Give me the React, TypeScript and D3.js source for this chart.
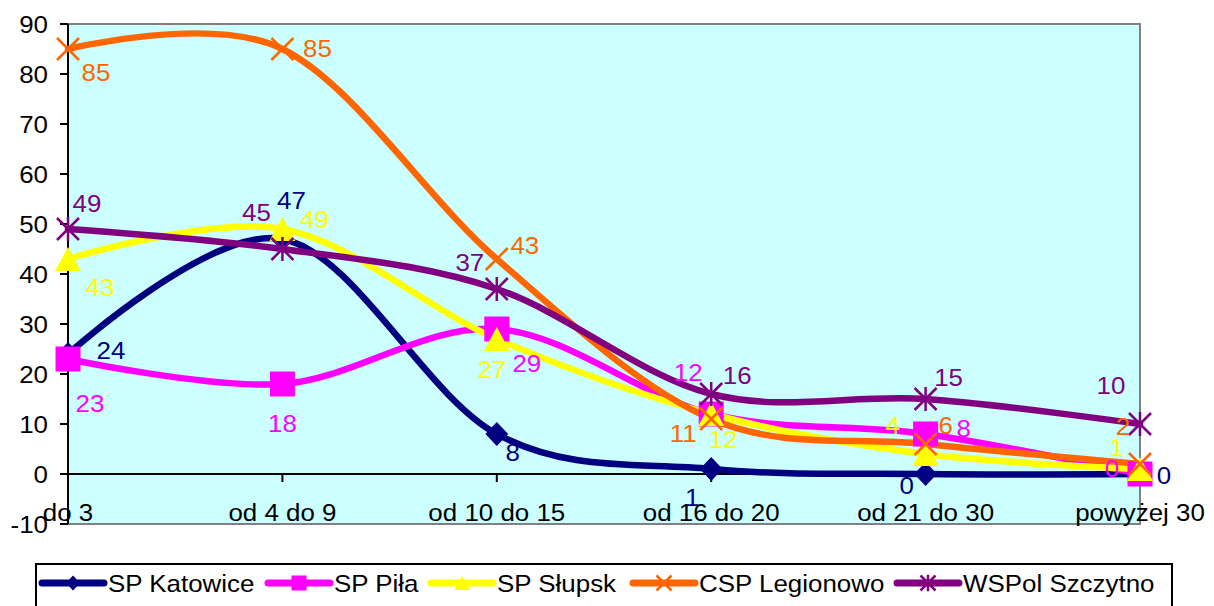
import React from "react";
import * as d3 from "d3";

// categories on the x axis
const categories = ["do 3", "od 4 do 9", "od 10 do 15", "od 16 do 20", "od 21 do 30", "powyżej 30"];

// series values
const katowice = [24, 47, 8, 1, 0, 0];
const pila = [23, 18, 29, 12, 8, 0];
const slupsk = [43, 49, 27, 12, 4, 1];
const legionowo = [85, 85, 43, 11, 6, 2];
const szczytno = [49, 45, 37, 16, 15, 10];

const yTicks = [-10, 0, 10, 20, 30, 40, 50, 60, 70, 80, 90];

const seriesNames = ["SP Katowice", "SP Piła", "SP Słupsk", "CSP Legionowo", "WSPol Szczytno"];
const seriesValues = [katowice, pila, slupsk, legionowo, szczytno];

// look
const colors = ["#000080", "#FF00FF", "#FFFF00", "#FF6600", "#800080"];
const markers = ["diamond", "square", "triangle", "x", "star"];

// data label offsets (dx, dy) from each point, as excel placed them
const labelOffsets = [
  [[43, -4], [9, -39], [16, 18], [-19, 28], [-19, 11], [24, 1]],
  [[22, 44], [0, 39], [30, 34], [-23, -42], [38, -6], [-28, -6]],
  [[32, 28], [32, -10], [-5, 30], [12, 25], [-33, -29], [-23, -22]],
  [[28, 23], [35, -1], [28, -14], [-28, 14], [20, -19], [-17, -38]],
  [[19, -26], [-26, -37], [-27, -27], [26, -19], [23, -22], [-29, -39]],
];

const legendX = [42, 268, 431, 633, 897];

const W = 1214, H = 606;
const left = 68, right = 1140, top = 24, bottom = 524;
const font = "Arial, 'Liberation Sans', sans-serif";
const stretch = 1.08; // the original text is a little wider than Arial

const T = ({ x, y, anchor, fill, children }: any) => (
  <text
    transform={`translate(${x},${y}) scale(${stretch},1)`}
    dy="0.36em"
    textAnchor={anchor}
    fontSize={24}
    fill={fill}
  >
    {children}
  </text>
);

const Marker = ({ kind, color, s }: { kind: string; color: string; s: number }) => {
  if (kind === "diamond")
    return <path d={`M0,${-s}L${s * 0.95},0L0,${s}L${-s * 0.95},0Z`} fill={color} />;
  if (kind === "square") return <rect x={-s} y={-s} width={2 * s} height={2 * s} fill={color} />;
  if (kind === "triangle")
    return <path d={`M0,${-s}L${s * 1.08},${s}L${-s * 1.08},${s}Z`} fill={color} />;
  if (kind === "x")
    return (
      <path d={`M${-s},${-s}L${s},${s}M${-s},${s}L${s},${-s}`} stroke={color} strokeWidth={2.5} fill="none" />
    );
  return (
    <path
      d={`M${-s},${-s}L${s},${s}M${-s},${s}L${s},${-s}M0,${-s * 1.1}L0,${s * 1.1}`}
      stroke={color}
      strokeWidth={2.5}
      fill="none"
    />
  );
};

const App = () => {
  const x = d3.scalePoint<string>().domain(categories).range([left, right]);
  const y = d3.scaleLinear().domain([-10, 90]).range([bottom, top]);

  const line = d3
    .line<number>()
    .x((d, i) => x(categories[i]) as number)
    .y((d) => y(d))
    .curve(d3.curveCardinal.tension(0));

  const markerSize = [12, 12.5, 12, 11, 11];

  return (
    <svg width={W} height={H} style={{ position: "absolute", left: 0, top: 0 }} fontFamily={font}>
      <rect x={0} y={0} width={W} height={H} fill="#fff" />
      {/* plot area */}
      <rect x={left} y={top} width={right - left} height={bottom - top} fill="#CCFFFF" stroke="#808080" strokeWidth={2} />
      {/* y axis */}
      <line x1={left} x2={left} y1={top} y2={bottom} stroke="#000" strokeWidth={2} />
      {yTicks.map((t) => (
        <g key={t}>
          <line x1={left - 8} x2={left} y1={y(t)} y2={y(t)} stroke="#000" strokeWidth={2} />
          <T x={48} y={y(t)} anchor="end" fill="#000">
            {t}
          </T>
        </g>
      ))}
      {/* x axis at zero */}
      <line x1={left} x2={right} y1={y(0)} y2={y(0)} stroke="#000" strokeWidth={2} />
      {categories.map((c) => (
        <g key={c}>
          <line x1={x(c)} x2={x(c)} y1={y(0)} y2={y(0) + 8} stroke="#000" strokeWidth={2} />
          <T x={x(c)} y={512} anchor="middle" fill="#000">
            {c}
          </T>
        </g>
      ))}
      {/* lines */}
      {seriesValues.map((vals, si) => (
        <path key={si} d={line(vals) || ""} fill="none" stroke={colors[si]} strokeWidth={6.5} strokeLinejoin="round" strokeLinecap="round" />
      ))}
      {/* markers */}
      {seriesValues.map((vals, si) => (
        <g key={si}>
          {vals.map((v, i) => (
            <g key={i} transform={`translate(${x(categories[i])},${y(v)})`}>
              <Marker kind={markers[si]} color={colors[si]} s={markerSize[si]} />
            </g>
          ))}
        </g>
      ))}
      {/* data labels */}
      {seriesValues.map((vals, si) => (
        <g key={si}>
          {vals.map((v, i) => (
            <T
              key={i}
              x={(x(categories[i]) as number) + labelOffsets[si][i][0]}
              y={y(v) + labelOffsets[si][i][1]}
              anchor="middle"
              fill={colors[si]}
            >
              {v}
            </T>
          ))}
        </g>
      ))}
      {/* legend */}
      <rect x={36} y={564} width={1136} height={60} fill="#fff" stroke="#000" strokeWidth={2} />
      {seriesNames.map((n, si) => (
        <g key={n} transform={`translate(${legendX[si]},583)`}>
          <line x1={0} x2={62} y1={0} y2={0} stroke={colors[si]} strokeWidth={7} strokeLinecap="round" />
          <g transform="translate(31,0)">
            <Marker kind={markers[si]} color={colors[si]} s={si === 2 ? 7 : 7.5} />
          </g>
          <T x={66} y={0} anchor="start" fill="#000">
            {n}
          </T>
        </g>
      ))}
    </svg>
  );
};

export default App;
